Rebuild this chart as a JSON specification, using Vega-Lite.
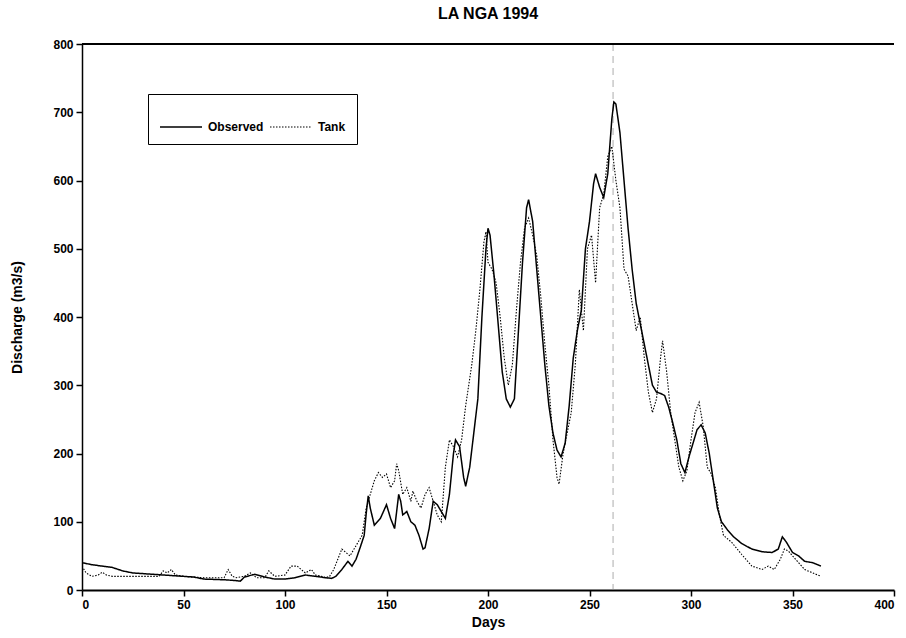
{
  "$schema": "https://vega.github.io/schema/vega-lite/v6.json",
  "autosize": {"type": "none"},
  "padding": {"left": 82, "top": 44, "right": 12, "bottom": 48},
  "width": 812,
  "height": 546,
  "background": "white",
  "config": {
    "view": {"stroke": null},
    "font": "Liberation Sans",
    "axis": {"labelFont": "Liberation Sans", "titleFont": "Liberation Sans", "labelFontWeight": "bold", "titleFontWeight": "bold", "labelColor": "black", "titleColor": "black", "domainColor": "black", "tickColor": "black", "labelFontSize": 12, "titleFontSize": 14, "grid": false}
  },
  "title": {"text": "LA NGA 1994", "font": "Liberation Sans", "fontSize": 16, "fontWeight": "bold", "color": "black", "anchor": "middle", "offset": 16},
  "datasets": {
    "flow": [
      {"day":0,"s":"Observed","q":40},{"day":5,"s":"Observed","q":37},{"day":10,"s":"Observed","q":35},{"day":15,"s":"Observed","q":33},{"day":20,"s":"Observed","q":28},{"day":25,"s":"Observed","q":25},{"day":30,"s":"Observed","q":24},{"day":40,"s":"Observed","q":22},{"day":50,"s":"Observed","q":20},{"day":55,"s":"Observed","q":19},{"day":60,"s":"Observed","q":16},{"day":70,"s":"Observed","q":15},{"day":75,"s":"Observed","q":14},{"day":78,"s":"Observed","q":13},{"day":80,"s":"Observed","q":19},{"day":85,"s":"Observed","q":23},{"day":90,"s":"Observed","q":19},{"day":95,"s":"Observed","q":16},{"day":100,"s":"Observed","q":16},{"day":105,"s":"Observed","q":18},{"day":110,"s":"Observed","q":22},{"day":115,"s":"Observed","q":20},{"day":120,"s":"Observed","q":18},{"day":123,"s":"Observed","q":17},{"day":125,"s":"Observed","q":20},{"day":128,"s":"Observed","q":30},{"day":131,"s":"Observed","q":42},{"day":133,"s":"Observed","q":35},{"day":135,"s":"Observed","q":45},{"day":137,"s":"Observed","q":62},{"day":139,"s":"Observed","q":80},{"day":140,"s":"Observed","q":112},{"day":141,"s":"Observed","q":138},{"day":142,"s":"Observed","q":120},{"day":144,"s":"Observed","q":95},{"day":147,"s":"Observed","q":105},{"day":150,"s":"Observed","q":125},{"day":152,"s":"Observed","q":105},{"day":154,"s":"Observed","q":90},{"day":156,"s":"Observed","q":140},{"day":157,"s":"Observed","q":130},{"day":158,"s":"Observed","q":110},{"day":160,"s":"Observed","q":115},{"day":162,"s":"Observed","q":100},{"day":164,"s":"Observed","q":95},{"day":166,"s":"Observed","q":80},{"day":168,"s":"Observed","q":60},{"day":169,"s":"Observed","q":62},{"day":171,"s":"Observed","q":90},{"day":173,"s":"Observed","q":130},{"day":175,"s":"Observed","q":125},{"day":177,"s":"Observed","q":115},{"day":179,"s":"Observed","q":105},{"day":181,"s":"Observed","q":140},{"day":183,"s":"Observed","q":200},{"day":184,"s":"Observed","q":220},{"day":186,"s":"Observed","q":210},{"day":188,"s":"Observed","q":165},{"day":189,"s":"Observed","q":152},{"day":191,"s":"Observed","q":180},{"day":193,"s":"Observed","q":230},{"day":195,"s":"Observed","q":280},{"day":197,"s":"Observed","q":400},{"day":199,"s":"Observed","q":500},{"day":200,"s":"Observed","q":530},{"day":201,"s":"Observed","q":520},{"day":203,"s":"Observed","q":460},{"day":205,"s":"Observed","q":390},{"day":207,"s":"Observed","q":320},{"day":209,"s":"Observed","q":280},{"day":211,"s":"Observed","q":268},{"day":213,"s":"Observed","q":280},{"day":215,"s":"Observed","q":380},{"day":217,"s":"Observed","q":480},{"day":219,"s":"Observed","q":560},{"day":220,"s":"Observed","q":572},{"day":222,"s":"Observed","q":540},{"day":224,"s":"Observed","q":470},{"day":226,"s":"Observed","q":400},{"day":228,"s":"Observed","q":330},{"day":230,"s":"Observed","q":270},{"day":232,"s":"Observed","q":230},{"day":234,"s":"Observed","q":205},{"day":236,"s":"Observed","q":195},{"day":238,"s":"Observed","q":215},{"day":240,"s":"Observed","q":270},{"day":242,"s":"Observed","q":340},{"day":244,"s":"Observed","q":380},{"day":246,"s":"Observed","q":410},{"day":248,"s":"Observed","q":500},{"day":250,"s":"Observed","q":540},{"day":252,"s":"Observed","q":595},{"day":253,"s":"Observed","q":610},{"day":255,"s":"Observed","q":590},{"day":257,"s":"Observed","q":575},{"day":259,"s":"Observed","q":610},{"day":261,"s":"Observed","q":690},{"day":262,"s":"Observed","q":715},{"day":263,"s":"Observed","q":712},{"day":265,"s":"Observed","q":670},{"day":267,"s":"Observed","q":600},{"day":269,"s":"Observed","q":530},{"day":271,"s":"Observed","q":470},{"day":273,"s":"Observed","q":420},{"day":275,"s":"Observed","q":390},{"day":277,"s":"Observed","q":360},{"day":279,"s":"Observed","q":330},{"day":281,"s":"Observed","q":300},{"day":283,"s":"Observed","q":290},{"day":285,"s":"Observed","q":288},{"day":287,"s":"Observed","q":285},{"day":289,"s":"Observed","q":268},{"day":291,"s":"Observed","q":245},{"day":293,"s":"Observed","q":220},{"day":295,"s":"Observed","q":185},{"day":297,"s":"Observed","q":172},{"day":299,"s":"Observed","q":195},{"day":301,"s":"Observed","q":215},{"day":303,"s":"Observed","q":235},{"day":305,"s":"Observed","q":242},{"day":307,"s":"Observed","q":230},{"day":309,"s":"Observed","q":200},{"day":311,"s":"Observed","q":160},{"day":313,"s":"Observed","q":120},{"day":315,"s":"Observed","q":100},{"day":318,"s":"Observed","q":88},{"day":321,"s":"Observed","q":78},{"day":325,"s":"Observed","q":68},{"day":330,"s":"Observed","q":60},{"day":335,"s":"Observed","q":56},{"day":340,"s":"Observed","q":55},{"day":343,"s":"Observed","q":60},{"day":345,"s":"Observed","q":78},{"day":347,"s":"Observed","q":70},{"day":350,"s":"Observed","q":55},{"day":353,"s":"Observed","q":50},{"day":356,"s":"Observed","q":42},{"day":360,"s":"Observed","q":40},{"day":364,"s":"Observed","q":35},
      {"day":0,"s":"Tank","q":35},{"day":2,"s":"Tank","q":25},{"day":5,"s":"Tank","q":20},{"day":8,"s":"Tank","q":22},{"day":10,"s":"Tank","q":26},{"day":12,"s":"Tank","q":22},{"day":15,"s":"Tank","q":20},{"day":20,"s":"Tank","q":20},{"day":30,"s":"Tank","q":20},{"day":38,"s":"Tank","q":20},{"day":40,"s":"Tank","q":28},{"day":42,"s":"Tank","q":25},{"day":44,"s":"Tank","q":30},{"day":46,"s":"Tank","q":22},{"day":50,"s":"Tank","q":20},{"day":60,"s":"Tank","q":18},{"day":70,"s":"Tank","q":18},{"day":72,"s":"Tank","q":30},{"day":74,"s":"Tank","q":20},{"day":76,"s":"Tank","q":18},{"day":80,"s":"Tank","q":20},{"day":83,"s":"Tank","q":25},{"day":86,"s":"Tank","q":18},{"day":90,"s":"Tank","q":18},{"day":92,"s":"Tank","q":28},{"day":95,"s":"Tank","q":20},{"day":100,"s":"Tank","q":22},{"day":103,"s":"Tank","q":35},{"day":106,"s":"Tank","q":35},{"day":108,"s":"Tank","q":30},{"day":110,"s":"Tank","q":25},{"day":113,"s":"Tank","q":30},{"day":115,"s":"Tank","q":22},{"day":118,"s":"Tank","q":20},{"day":120,"s":"Tank","q":18},{"day":122,"s":"Tank","q":20},{"day":124,"s":"Tank","q":30},{"day":126,"s":"Tank","q":45},{"day":128,"s":"Tank","q":60},{"day":130,"s":"Tank","q":55},{"day":132,"s":"Tank","q":50},{"day":134,"s":"Tank","q":60},{"day":136,"s":"Tank","q":70},{"day":138,"s":"Tank","q":80},{"day":140,"s":"Tank","q":120},{"day":142,"s":"Tank","q":140},{"day":144,"s":"Tank","q":160},{"day":146,"s":"Tank","q":172},{"day":148,"s":"Tank","q":165},{"day":150,"s":"Tank","q":170},{"day":152,"s":"Tank","q":150},{"day":154,"s":"Tank","q":160},{"day":155,"s":"Tank","q":185},{"day":156,"s":"Tank","q":175},{"day":158,"s":"Tank","q":140},{"day":160,"s":"Tank","q":150},{"day":162,"s":"Tank","q":130},{"day":163,"s":"Tank","q":145},{"day":165,"s":"Tank","q":130},{"day":167,"s":"Tank","q":120},{"day":169,"s":"Tank","q":140},{"day":171,"s":"Tank","q":150},{"day":173,"s":"Tank","q":130},{"day":175,"s":"Tank","q":110},{"day":177,"s":"Tank","q":100},{"day":179,"s":"Tank","q":180},{"day":181,"s":"Tank","q":220},{"day":183,"s":"Tank","q":210},{"day":185,"s":"Tank","q":195},{"day":187,"s":"Tank","q":220},{"day":189,"s":"Tank","q":270},{"day":190,"s":"Tank","q":290},{"day":192,"s":"Tank","q":330},{"day":194,"s":"Tank","q":380},{"day":196,"s":"Tank","q":440},{"day":198,"s":"Tank","q":510},{"day":199,"s":"Tank","q":525},{"day":200,"s":"Tank","q":480},{"day":202,"s":"Tank","q":470},{"day":204,"s":"Tank","q":450},{"day":206,"s":"Tank","q":400},{"day":208,"s":"Tank","q":340},{"day":210,"s":"Tank","q":300},{"day":212,"s":"Tank","q":330},{"day":214,"s":"Tank","q":410},{"day":216,"s":"Tank","q":480},{"day":218,"s":"Tank","q":530},{"day":220,"s":"Tank","q":545},{"day":222,"s":"Tank","q":520},{"day":224,"s":"Tank","q":490},{"day":226,"s":"Tank","q":430},{"day":228,"s":"Tank","q":360},{"day":230,"s":"Tank","q":300},{"day":232,"s":"Tank","q":220},{"day":234,"s":"Tank","q":165},{"day":235,"s":"Tank","q":155},{"day":237,"s":"Tank","q":200},{"day":239,"s":"Tank","q":230},{"day":241,"s":"Tank","q":260},{"day":243,"s":"Tank","q":330},{"day":245,"s":"Tank","q":440},{"day":247,"s":"Tank","q":380},{"day":249,"s":"Tank","q":500},{"day":251,"s":"Tank","q":520},{"day":253,"s":"Tank","q":450},{"day":255,"s":"Tank","q":560},{"day":257,"s":"Tank","q":580},{"day":259,"s":"Tank","q":635},{"day":261,"s":"Tank","q":650},{"day":263,"s":"Tank","q":600},{"day":265,"s":"Tank","q":560},{"day":267,"s":"Tank","q":470},{"day":269,"s":"Tank","q":460},{"day":271,"s":"Tank","q":420},{"day":273,"s":"Tank","q":380},{"day":275,"s":"Tank","q":400},{"day":277,"s":"Tank","q":340},{"day":279,"s":"Tank","q":290},{"day":281,"s":"Tank","q":260},{"day":283,"s":"Tank","q":280},{"day":285,"s":"Tank","q":340},{"day":286,"s":"Tank","q":365},{"day":288,"s":"Tank","q":320},{"day":290,"s":"Tank","q":260},{"day":292,"s":"Tank","q":220},{"day":294,"s":"Tank","q":180},{"day":296,"s":"Tank","q":160},{"day":298,"s":"Tank","q":175},{"day":300,"s":"Tank","q":220},{"day":302,"s":"Tank","q":260},{"day":304,"s":"Tank","q":275},{"day":306,"s":"Tank","q":240},{"day":308,"s":"Tank","q":180},{"day":310,"s":"Tank","q":170},{"day":312,"s":"Tank","q":150},{"day":314,"s":"Tank","q":110},{"day":316,"s":"Tank","q":80},{"day":320,"s":"Tank","q":70},{"day":325,"s":"Tank","q":52},{"day":330,"s":"Tank","q":35},{"day":335,"s":"Tank","q":30},{"day":338,"s":"Tank","q":35},{"day":341,"s":"Tank","q":30},{"day":344,"s":"Tank","q":45},{"day":346,"s":"Tank","q":60},{"day":348,"s":"Tank","q":57},{"day":350,"s":"Tank","q":50},{"day":353,"s":"Tank","q":40},{"day":356,"s":"Tank","q":30},{"day":360,"s":"Tank","q":25},{"day":364,"s":"Tank","q":20}
    ],
    "fold": [{"day": 261.6}]
  },
  "layer": [
    {
      "data": {"name": "fold"},
      "mark": {"type": "rule", "stroke": "#888", "strokeWidth": 0.7, "strokeDash": [7, 5]},
      "encoding": {"x": {"field": "day", "type": "quantitative", "scale": {"domain": [0, 400]}}}
    },
    {
      "data": {"values": [{"top": 800}]},
      "mark": {"type": "rule", "color": "black", "strokeWidth": 2},
      "encoding": {"y": {"field": "top", "type": "quantitative"}}
    },
    {
      "data": {"name": "flow"},
      "mark": {"type": "line", "color": "black", "clip": true},
      "encoding": {
        "x": {"field": "day", "type": "quantitative", "scale": {"domain": [0, 400], "nice": false},
              "axis": {"title": "Days", "values": [0,50,100,150,200,250,300,350,400], "tickSize": 6, "domainWidth": 2, "tickWidth": 1.5, "labelPadding": 3, "titlePadding": 5}},
        "y": {"field": "q", "type": "quantitative", "scale": {"domain": [0, 800], "nice": false},
              "axis": {"title": "Discharge (m3/s)", "values": [0,100,200,300,400,500,600,700,800], "tickSize": 6, "domainWidth": 1.5, "tickWidth": 1.5, "labelPadding": 3, "titlePadding": 28}},
        "strokeDash": {"field": "s", "type": "nominal", "scale": {"domain": ["Observed", "Tank"], "range": [[1, 0], [1.5, 1.5]]},
              "legend": {"title": null, "orient": "none", "legendX": 66, "legendY": 50, "direction": "horizontal", "columns": 2, "gridAlign": "all", "rowPadding": 0, "strokeColor": "black", "padding": 11, "symbolType": "stroke", "symbolSize": 1764, "symbolStrokeColor": "black", "symbolStrokeWidth": 1.2, "labelFont": "Liberation Sans", "labelFontWeight": "bold", "labelFontSize": 12, "labelColor": "black", "labelOffset": 5, "columnPadding": 3, "fillColor": "white"}},
        "strokeWidth": {"field": "s", "type": "nominal", "scale": {"domain": ["Observed", "Tank"], "range": [1.5, 1.1]}, "legend": null}
      }
    }
  ]
}
